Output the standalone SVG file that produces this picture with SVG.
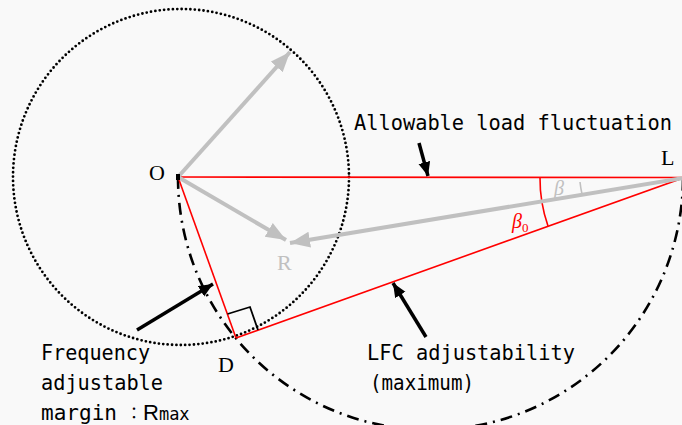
<svg xmlns="http://www.w3.org/2000/svg" width="682" height="425" viewBox="0 0 682 425">
<style>
.red{stroke:#ff0000;stroke-width:1.6;fill:none}
.gray{stroke:#c0c0c0;stroke-width:4;fill:none}
.blk{stroke:#000;stroke-width:3.5;fill:none}
.mono{font-family:"DejaVu Sans Mono","Liberation Mono",monospace;font-size:21px;fill:#000}
.ser{font-family:"Liberation Serif","Times New Roman",serif;font-size:22px;fill:#000}
</style>
<defs>
<marker id="ga" markerUnits="userSpaceOnUse" markerWidth="22" markerHeight="18" refX="20" refY="8" orient="auto"><path d="M0,0 L20,8 L0,16 z" fill="#c0c0c0"/></marker>
<marker id="ba" markerUnits="userSpaceOnUse" markerWidth="16" markerHeight="14" refX="14" refY="6" orient="auto"><path d="M0,0 L14,6 L0,12 z" fill="#000"/></marker>
</defs>
<rect width="682" height="425" fill="#f9f9f9"/>
<g id="circles">
<circle id="dotted-circle" cx="181" cy="177" r="168" fill="none" stroke="#000" stroke-width="2.8" stroke-dasharray="0 4.4" stroke-linecap="round"/>
<path id="thales-arc" d="M178,177 A252.5,252.5 0 0 0 683,178" fill="none" stroke="#000" stroke-width="2.6" stroke-dasharray="12 6 2 6"/>
</g>
<g id="connectors">
<path class="red" d="M178,177 L683,177.5"/>
<path class="red" d="M178,177 L236,338"/>
<path class="red" d="M236,338 L683,178"/>
<path class="blk" style="stroke-width:1.8" d="M227.5,314 L250,307 L258,330"/>
<path class="red" d="M540,177.5 A143,143 0 0 0 548,226"/>
<path d="M580,182 A103,103 0 0 0 582,194" fill="none" stroke="#c0c0c0" stroke-width="1.6"/>
<path class="gray" d="M178,177 L290,52" marker-end="url(#ga)"/>
<path class="gray" d="M178,177 L286,240" marker-end="url(#ga)"/>
<path class="gray" d="M683,178 L290,243" marker-end="url(#ga)"/>
<path class="blk" d="M419,143 L428,176" marker-end="url(#ba)"/>
<path class="blk" d="M137,330 L213,284" marker-end="url(#ba)"/>
<path class="blk" d="M426,337 L393,283" marker-end="url(#ba)"/>
<rect x="176" y="174" width="4" height="6" fill="#000"/>
</g>
<g id="node-O"><text class="ser" x="149" y="180">O</text></g>
<g id="node-L"><text class="ser" x="661" y="165">L</text></g>
<g id="node-D"><text class="ser" x="218" y="372">D</text></g>
<g id="node-R"><text class="ser" x="277" y="270" style="fill:#c0c0c0">R</text></g>
<g id="angle-beta"><text x="554" y="195" font-family="Liberation Serif,serif" font-style="italic" font-size="20" fill="#c0c0c0">β</text></g>
<g id="angle-beta0"><text x="512" y="228" font-family="Liberation Serif,serif" font-style="italic" font-size="20" fill="#ff0000">β<tspan font-size="13" font-style="normal" dy="4">0</tspan></text></g>
<g id="label-allowable"><text class="mono" x="354" y="130" textLength="318" lengthAdjust="spacingAndGlyphs">Allowable load fluctuation</text></g>
<g id="label-lfc">
<text class="mono" x="367" y="360" textLength="208" lengthAdjust="spacingAndGlyphs">LFC adjustability</text>
<text class="mono" x="370" y="390" textLength="104" lengthAdjust="spacingAndGlyphs">(maximum)</text>
</g>
<g id="label-frequency">
<text class="mono" x="41" y="360" textLength="109" lengthAdjust="spacingAndGlyphs">Frequency</text>
<text class="mono" x="41" y="390" textLength="122" lengthAdjust="spacingAndGlyphs">adjustable</text>
<text class="mono" x="41" y="420" textLength="76" lengthAdjust="spacingAndGlyphs">margin</text>
<text x="126" y="419" font-family="Noto Sans CJK JP,sans-serif" font-size="16">：</text>
<text x="143" y="420" font-family="Liberation Sans,Arial,sans-serif" font-size="22">R<tspan font-family="DejaVu Sans Mono,monospace" font-size="17">max</tspan></text>
</g>
</svg>
